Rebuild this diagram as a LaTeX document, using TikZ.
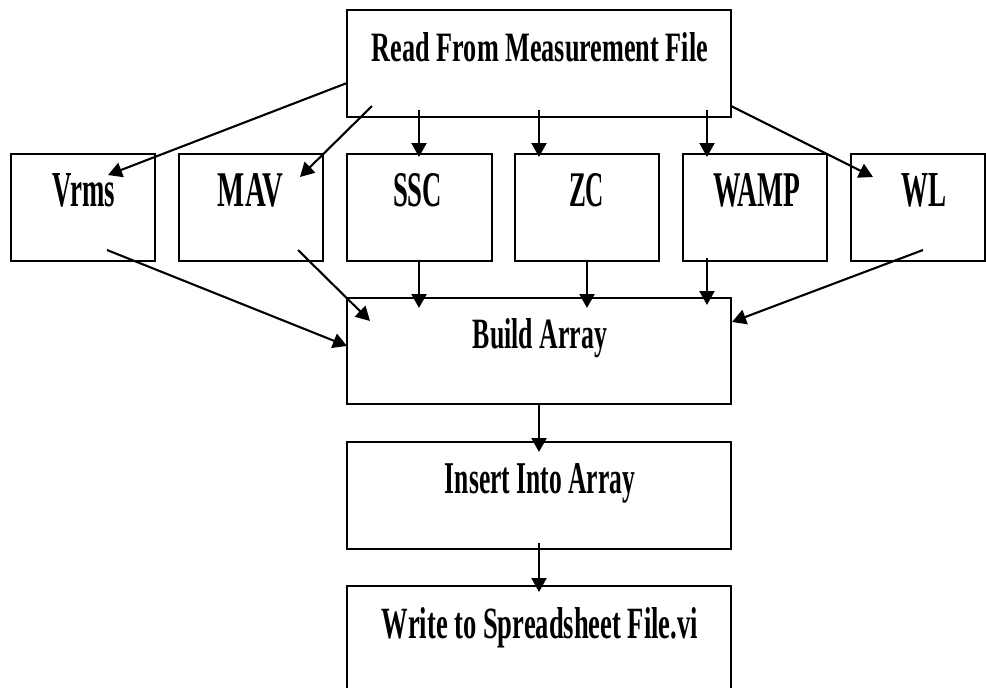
\documentclass[tikz,border=0pt]{standalone}
\usepackage{fontspec}
\setmainfont{Liberation Serif}
\usepackage{graphicx}
\usetikzlibrary{arrows.meta}
\tikzset{
  boxnode/.style={draw=black, line width=2.1pt, fill=none, inner sep=0pt, rectangle},
  lbl/.style={anchor=base, inner sep=0pt, text=black},
  conn/.style={line width=2.1pt, draw=black, -{Triangle[length=14pt,width=15pt]}}
}
\newcommand{\fitlabel}[3]{\resizebox{#1pt}{#2pt}{\bfseries #3}}
\begin{document}
\begin{tikzpicture}[x=1pt,y=-1pt]
\useasboundingbox (0,0) rectangle (986,688);
\clip (0,0) rectangle (986,688);
% boxes
\node[boxnode, minimum width=384pt, minimum height=107pt] (read) at (539,63.5) {};
\node[boxnode, minimum width=144pt, minimum height=107pt] (vrms) at (83,207.5) {};
\node[boxnode, minimum width=144pt, minimum height=107pt] (mav) at (251,207.5) {};
\node[boxnode, minimum width=145pt, minimum height=107pt] (ssc) at (419.5,207.5) {};
\node[boxnode, minimum width=144pt, minimum height=107pt] (zc) at (587,207.5) {};
\node[boxnode, minimum width=144pt, minimum height=107pt] (wamp) at (755,207.5) {};
\node[boxnode, minimum width=134pt, minimum height=107pt] (wl) at (918,207.5) {};
\node[boxnode, minimum width=384pt, minimum height=106pt] (build) at (539,351) {};
\node[boxnode, minimum width=384pt, minimum height=107pt] (insert) at (539,495.5) {};
\node[boxnode, minimum width=384pt, minimum height=107pt] (write) at (539,639.5) {};
% labels
\node[lbl] (treads) at (540,61) {\fitlabel{336}{29}{Read From Measurement File}};
\node[lbl] (tvrms) at (84,206) {\fitlabel{62}{33}{Vrms}};
\node[lbl] (tmav) at (250.5,206) {\fitlabel{65}{33}{MAV}};
\node[lbl] (tssc) at (417.5,206) {\fitlabel{49}{33}{SSC}};
\node[lbl] (tzc) at (586.5,206) {\fitlabel{35}{33}{ZC}};
\node[lbl] (twamp) at (756.5,206) {\fitlabel{87}{33}{WAMP}};
\node[lbl] (twl) at (923.5,206) {\fitlabel{45}{33}{WL}};
\node[lbl] (tbuild) at (540,348) {\fitlabel{134}{30}{Build Array}};
\node[lbl] (tinsert) at (540,493) {\fitlabel{190}{30}{Insert Into Array}};
\node[lbl] (twrite) at (540,638) {\fitlabel{316}{31}{Write to Spreadsheet File.vi}};
% connector end points
\coordinate (r1) at (347,83);   \coordinate (v1) at (108,175);
\coordinate (r2) at (372,106);  \coordinate (m1) at (300,177);
\coordinate (r3) at (419,110);  \coordinate (s1) at (419,157);
\coordinate (r4) at (539,110);  \coordinate (z1) at (539,157);
\coordinate (r5) at (707,110);  \coordinate (w1) at (707,157);
\coordinate (r6) at (731,106);  \coordinate (l1) at (873,177);
\coordinate (v2) at (107,250);  \coordinate (b1) at (347,346);
\coordinate (m2) at (298,250);  \coordinate (b2) at (370,321);
\coordinate (s2) at (419,262);  \coordinate (b3) at (419,308);
\coordinate (z2) at (587,262);  \coordinate (b4) at (587,308);
\coordinate (w2) at (707,258);  \coordinate (b5) at (707,305);
\coordinate (l2) at (923,250);  \coordinate (b6) at (732,322);
\coordinate (b7) at (539,404);  \coordinate (i1) at (539,452);
\coordinate (i2) at (539,543);  \coordinate (o1) at (539,592);
% connectors
\draw[conn] (r1) -- (v1);
\draw[conn] (r2) -- (m1);
\draw[conn] (r3) -- (s1);
\draw[conn] (r4) -- (z1);
\draw[conn] (r5) -- (w1);
\draw[conn] (r6) -- (l1);
\draw[conn] (v2) -- (b1);
\draw[conn] (m2) -- (b2);
\draw[conn] (s2) -- (b3);
\draw[conn] (z2) -- (b4);
\draw[conn] (w2) -- (b5);
\draw[conn] (l2) -- (b6);
\draw[conn] (b7) -- (i1);
\draw[conn] (i2) -- (o1);
\end{tikzpicture}
\end{document}
